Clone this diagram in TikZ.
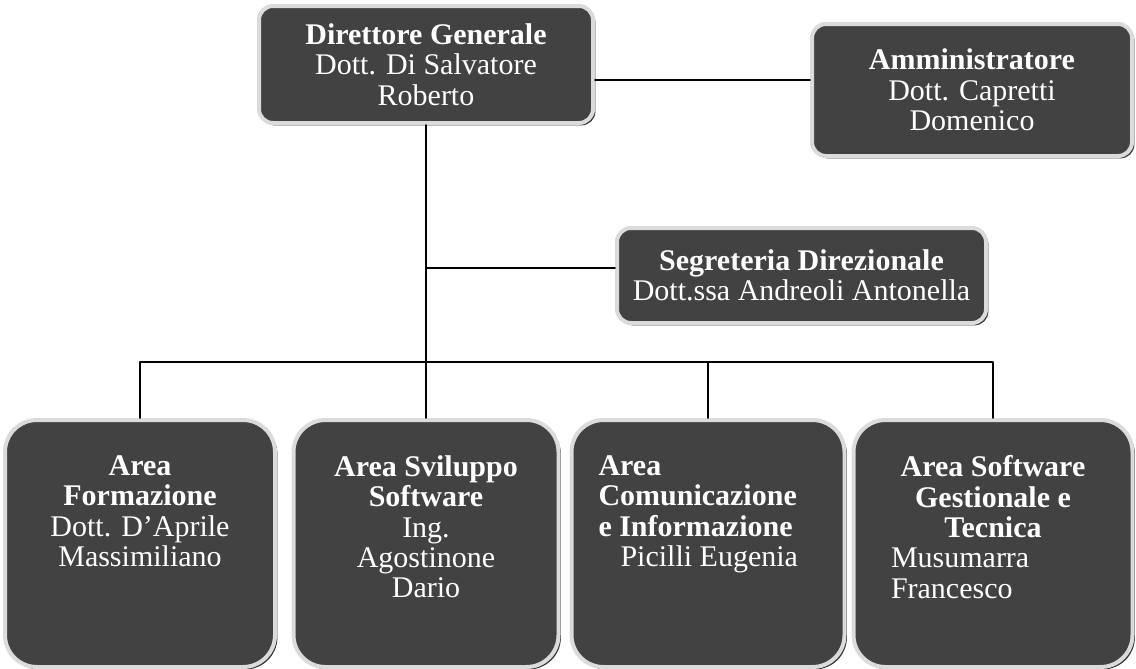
\documentclass[tikz,border=0pt]{standalone}
\usepackage{fontspec}
\setmainfont{Liberation Serif}
\usetikzlibrary{shadows}
\definecolor{boxfill}{rgb}{0.26,0.26,0.26}
\definecolor{ring}{rgb}{0.86,0.86,0.86}
\tikzset{
    unit/.style = {draw=ring, line width=2pt, fill=boxfill, text=white,
        rounded corners=7pt, inner sep=0pt, align=center,
        font=\fontsize{15}{15.2}\selectfont,
        drop shadow={shadow xshift=1.2pt, shadow yshift=-1.2pt, fill=black!80, opacity=1}},
    area/.style = {unit, rounded corners=16pt, minimum height=123.5pt},
    link/.style = {line width=0.8pt}
}
\newcommand{\areapar}[2]{\parbox[c][88pt][t]{#1}{#2}}

\begin{document}
\begin{tikzpicture}[line cap=round,line join=round,x=0.5pt,y=-0.5pt]
    \useasboundingbox (0,0) rectangle (1136,669);

    \node [unit, minimum width=167pt, minimum height=58.5pt] (dg) at (426,64.5)
        {\textbf{Direttore Generale}\\Dott. Di Salvatore\\Roberto};
    \node [unit, minimum width=160pt, minimum height=66pt] (amm) at (972,90)
        {\textbf{Amministratore}\\Dott. Capretti\\Domenico};
    \node [unit, minimum width=184.5pt, minimum height=47.5pt] (seg) at (801.5,275.5)
        {\textbf{Segreteria Direzionale}\\Dott.ssa Andreoli Antonella};

    % aree
    \node [area, minimum width=135pt] (a1) at (140,543.5)
        {\areapar{120pt}{\centering\textbf{Area}\\\textbf{Formazione}\\Dott. D’Aprile\\Massimiliano}};
    \node [area, minimum width=132.5pt] (a2) at (426,543.5)
        {\areapar{120pt}{\centering\textbf{Area Sviluppo}\\\textbf{Software}\\Ing.\\Agostinone\\Dario}};
    \node [area, minimum width=136.5pt] (a3) at (708,543.5)
        {\areapar{109.5pt}{\raggedright\textbf{Area}\\\textbf{Comunicazione}\\\textbf{e Informazione}\\\hspace*{11pt}Picilli Eugenia}};
    \node [area, minimum width=139.5pt] (a4) at (993,543.5)
        {\areapar{102pt}{{\centering\textbf{Area Software}\\\textbf{Gestionale e}\\\textbf{Tecnica}\par}\raggedright Musumarra\\Francesco}};

    \coordinate (top) at (700,80);
    \coordinate (mid) at (700,268);
    \coordinate (bus) at (426,362);
    \draw [link] (dg.east |- top) -- (amm.west |- top);
    \draw [link] (dg.south) -- (a2.north);
    \draw [link] (seg.west |- mid) -- (dg.south |- mid);
    \draw [link] (a1.north) |- (bus) -| (a4.north);
    \draw [link] (bus) -| (a3.north);
\end{tikzpicture}
\end{document}
